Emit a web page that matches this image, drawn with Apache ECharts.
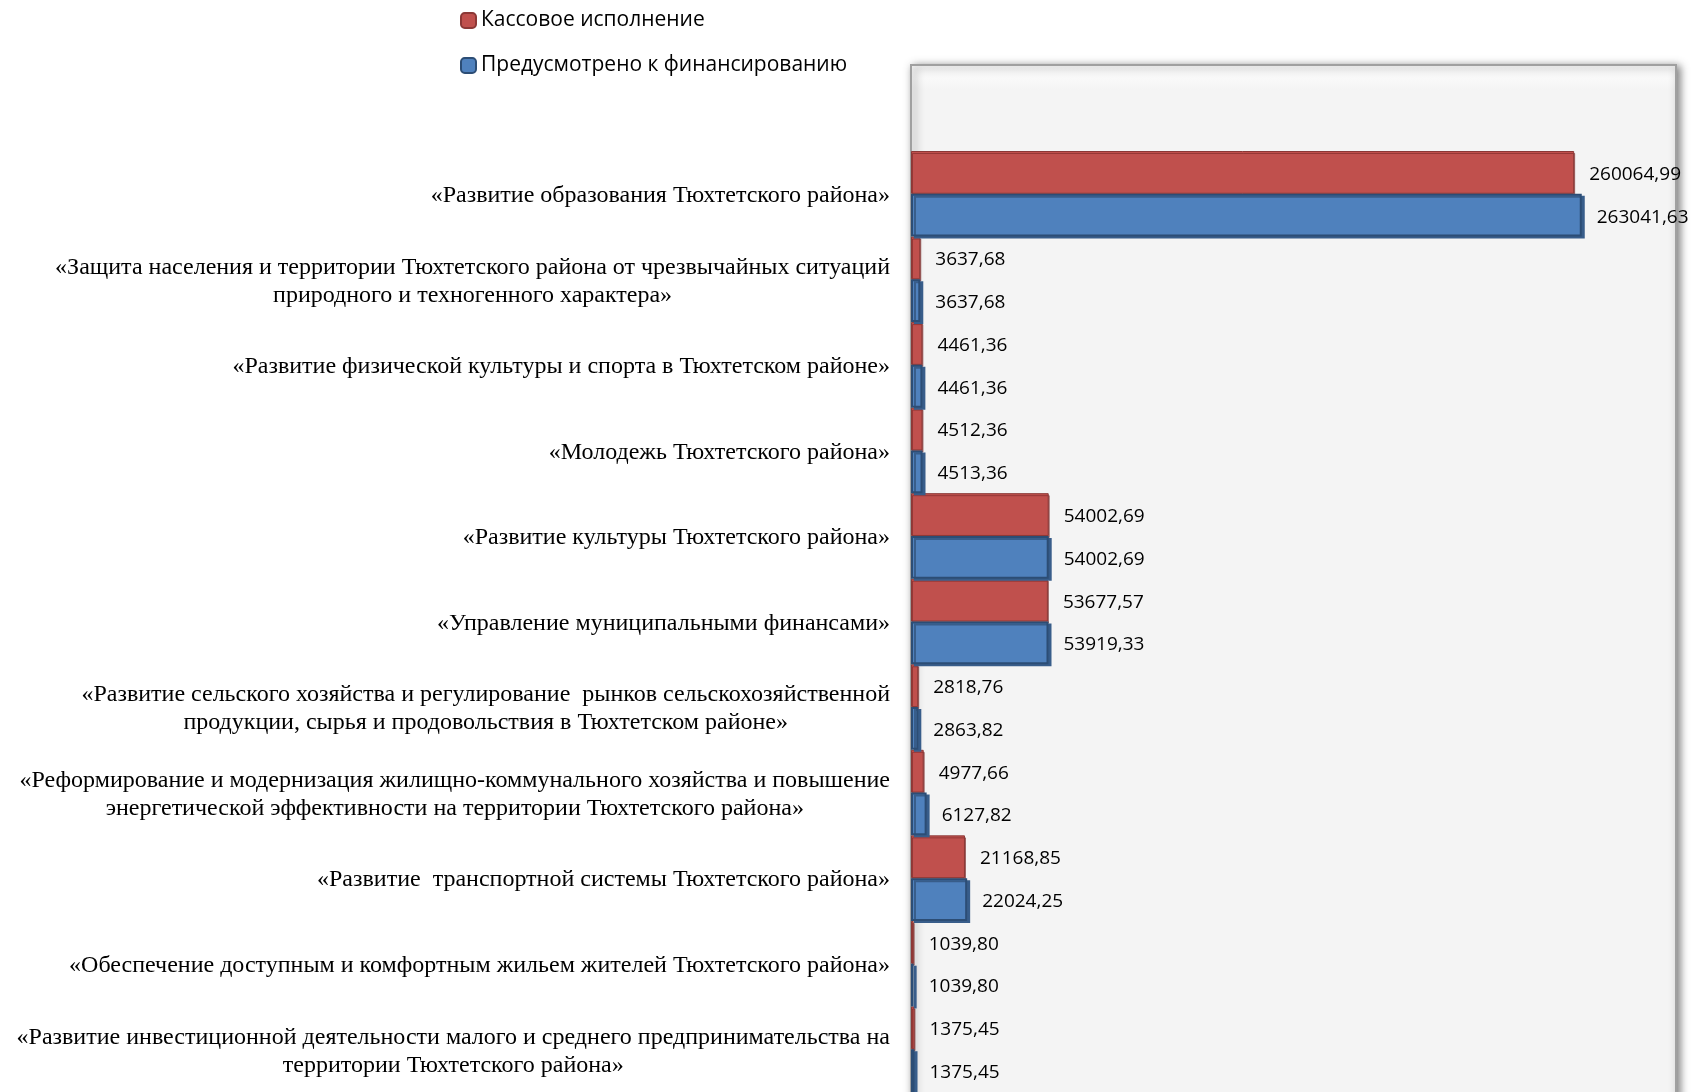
<!DOCTYPE html>
<html>
<head>
<meta charset="utf-8">
<script src="https://cdn.jsdelivr.net/npm/echarts@6/dist/echarts.min.js"></script>
<style>
  html, body { margin: 0; padding: 0; background: #ffffff; }
  #chart { width: 1695px; height: 1092px; }
</style>
</head>
<body>
<div id="chart"></div>
<script>
// программы, сверху вниз
var categories = [
    '«Развитие образования Тюхтетского района»',
    '«Защита населения и территории Тюхтетского района от чрезвычайных ситуаций\nприродного и техногенного характера»',
    '«Развитие физической культуры и спорта в Тюхтетском районе»',
    '«Молодежь Тюхтетского района»',
    '«Развитие культуры Тюхтетского района»',
    '«Управление муниципальными финансами»',
    '«Развитие сельского хозяйства и регулирование  рынков сельскохозяйственной\nпродукции, сырья и продовольствия в Тюхтетском районе»',
    '«Реформирование и модернизация жилищно-коммунального хозяйства и повышение\nэнергетической эффективности на территории Тюхтетского района»',
    '«Развитие  транспортной системы Тюхтетского района»',
    '«Обеспечение доступным и комфортным жильем жителей Тюхтетского района»',
    '«Развитие инвестиционной деятельности малого и среднего предпринимательства на\nтерритории Тюхтетского района»'
];
var seriesNames = ['Кассовое исполнение', 'Предусмотрено к финансированию'];
var kassovoe = [260064.99, 3637.68, 4461.36, 4512.36, 54002.69, 53677.57, 2818.76, 4977.66, 21168.85, 1039.80, 1375.45];
var predusmotreno = [263041.63, 3637.68, 4461.36, 4513.36, 54002.69, 53919.33, 2863.82, 6127.82, 22024.25, 1039.80, 1375.45];

var chart = echarts.init(document.getElementById('chart'));

function fmt(p) {
    return p.value.toFixed(2).replace('.', ',');
}

chart.setOption({
    animation: false,
    backgroundColor: '#ffffff',
    graphic: [
        {
            type: 'rect',
            z: -10,
            shape: { x: 911, y: 65, width: 765, height: 1045 },
            style: {
                fill: {
                    type: 'linear', x: 0, y: 0, x2: 0, y2: 1,
                    colorStops: [
                        { offset: 0, color: '#ffffff' },
                        { offset: 0.025, color: '#f4f4f4' },
                        { offset: 1, color: '#f4f4f4' }
                    ]
                },
                stroke: '#a0a0a0',
                lineWidth: 2,
                shadowBlur: 8,
                shadowOffsetX: 3,
                shadowOffsetY: 2,
                shadowColor: 'rgba(0,0,0,0.5)'
            }
        }
    ],
    legend: {
        orient: 'vertical',
        left: 455,
        top: 5,
        itemWidth: 15,
        itemHeight: 15,
        itemGap: 24,
        textStyle: { fontFamily: 'Open Sans', fontSize: 21, color: '#000' },
        data: seriesNames
    },
    grid: { left: 911, right: 19, top: 151, bottom: -19 },
    xAxis: { type: 'value', min: 0, max: 300000, show: false },
    yAxis: {
        type: 'category',
        inverse: true,
        data: categories,
        axisLine: { show: false },
        axisTick: { show: false },
        axisLabel: {
            margin: 21,
            formatter: function (v) {
                return v.split('\n').map(function (s) { return '{c|' + s + '}'; }).join('\n');
            },
            rich: {
                c: {
                    align: 'center',
                    fontFamily: 'Liberation Serif',
                    fontSize: 24,
                    lineHeight: 28,
                    color: '#000',
                    padding: [4, 0, 0, 0]
                }
            }
        }
    },
    series: [
        {
            name: seriesNames[0],
            type: 'bar',
            data: kassovoe,
            barGap: '0%',
            barCategoryGap: '0%',
            itemStyle: {
                color: '#c0504d',
                borderColor: '#8c3836',
                borderWidth: 1,
                shadowColor: 'rgba(120,40,40,0.6)',
                shadowOffsetY: 2,
                shadowOffsetX: 1
            },
            label: {
                show: true,
                position: 'right',
                distance: 15,
                offset: [0, 2],
                formatter: fmt,
                fontFamily: 'Open Sans',
                fontSize: 19,
                color: '#000'
            }
        },
        {
            name: seriesNames[1],
            type: 'bar',
            data: predusmotreno,
            barGap: '0%',
            barCategoryGap: '0%',
            itemStyle: {
                color: '#4f81bd',
                borderColor: '#2c4d75',
                borderWidth: 2,
                shadowColor: '#385d8a',
                shadowOffsetX: 3,
                shadowOffsetY: 2
            },
            label: {
                show: true,
                position: 'right',
                distance: 15,
                offset: [0, 2],
                formatter: fmt,
                fontFamily: 'Open Sans',
                fontSize: 19,
                color: '#000'
            }
        }
    ]
});
</script>
</body>
</html>
